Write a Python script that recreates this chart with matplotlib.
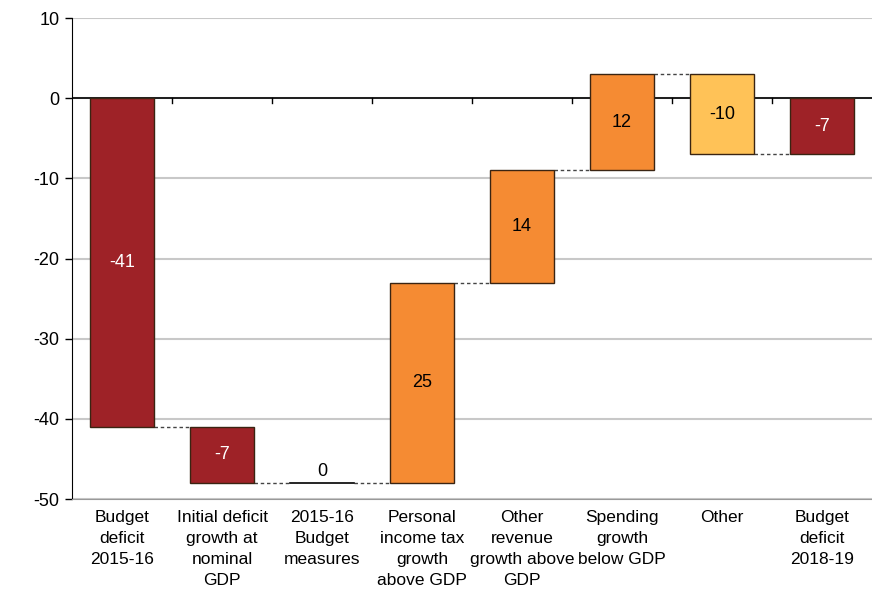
import numpy as np
import matplotlib
matplotlib.use("Agg")
import matplotlib.pyplot as plt

plt.rcParams['font.family'] = ['Liberation Sans', 'DejaVu Sans']
plt.rcParams['axes.unicode_minus'] = False

# --- Waterfall data ($billions) ---
categories = [
    "Budget\ndeficit\n2015-16",
    "Initial deficit\ngrowth at\nnominal\nGDP",
    "2015-16\nBudget\nmeasures",
    "Personal\nincome tax\ngrowth\nabove GDP",
    "Other\nrevenue\ngrowth above\nGDP",
    "Spending\ngrowth\nbelow GDP",
    "Other",
    "Budget\ndeficit\n2018-19",
]
changes = [-41, -7, 0, 25, 14, 12, -10, -7]
is_total = [True, False, False, False, False, False, False, True]

DARK_RED = "#9e2227"
ORANGE = "#f58b33"
LIGHT_ORANGE = "#ffc257"
bar_colors = [DARK_RED, DARK_RED, DARK_RED, ORANGE, ORANGE, ORANGE, LIGHT_ORANGE, DARK_RED]
label_colors = ["white", "white", "black", "black", "black", "black", "black", "white"]

# running totals -> bar bottoms / tops
bottoms, tops = [], []
level = 0
for v, tot in zip(changes, is_total):
    if tot:
        bottoms.append(0)
        tops.append(v)
        level = v
    else:
        bottoms.append(level)
        level = level + v
        tops.append(level)

fig = plt.figure(figsize=(8.72, 5.89), dpi=100)
ax = fig.add_axes([0.0826, 0.1528, 0.9174, 0.8166])

x = np.arange(len(categories))
width = 0.64
heights = [t - b for t, b in zip(tops, bottoms)]

for i in range(len(categories)):
    if heights[i] == 0:
        ax.plot([x[i] - width / 2, x[i] + width / 2], [bottoms[i]] * 2, color="black", lw=1.2, zorder=3)
    else:
        ax.bar(x[i], heights[i], bottom=bottoms[i], width=width, color=bar_colors[i],
               edgecolor="#3a2412", linewidth=1, zorder=3)

# dashed connectors between bars
for i in range(len(categories) - 1):
    lvl = tops[i]
    ax.plot([x[i] + width / 2, x[i + 1] - width / 2], [lvl, lvl], color="#444444",
            lw=1, ls=(0, (2.5, 2)), zorder=2)

# value labels
for i, v in enumerate(changes):
    mid = (tops[i] + bottoms[i]) / 2
    if heights[i] == 0:
        ax.text(x[i], bottoms[i] + 0.4, f"{v:d}", ha="center", va="bottom", fontsize=13, color="black")
    else:
        ax.text(x[i], mid, f"{v:d}", ha="center", va="center", fontsize=13, color=label_colors[i])

ax.set_xlim(-0.5, len(categories) - 0.5)
ax.set_ylim(-50, 10)
ax.set_yticks(np.arange(-50, 11, 10))
ax.yaxis.grid(True, color="#c8c8c8", lw=1.5)
ax.set_axisbelow(True)

# zero line with category separators
ax.axhline(0, color="black", lw=1.2, zorder=2)
for b in np.arange(0.5, len(categories) - 1):
    ax.plot([b, b], [0, -0.55], color="black", lw=1, zorder=2)

ax.set_xticks(x)
ax.set_xticklabels(categories, fontsize=12.5, linespacing=1.5)
ax.tick_params(axis="x", length=0, pad=8)
ax.tick_params(axis="y", labelsize=13, length=5, width=1, direction="out", pad=4)

for s in ["top", "right"]:
    ax.spines[s].set_visible(False)
ax.spines["left"].set_color("black")
ax.spines["bottom"].set_color("#999999")

fig.savefig("out.png", dpi=100)
